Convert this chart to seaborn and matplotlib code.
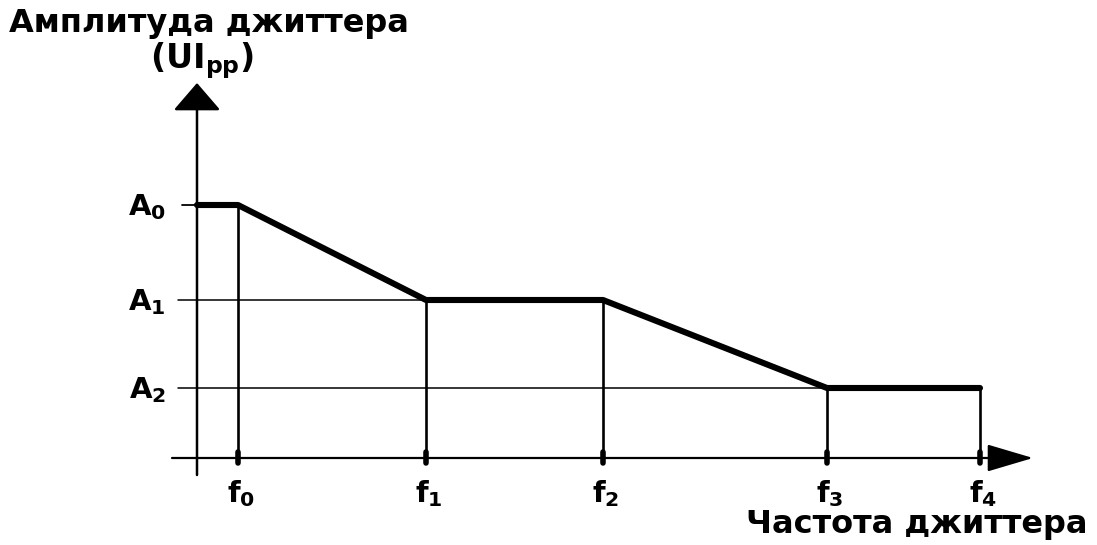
import matplotlib.pyplot as plt
import seaborn as sns
import pandas as pd

# частоты (по оси x) и амплитуды (по оси y), условные единицы
freq_labels = ["f$_0$", "f$_1$", "f$_2$", "f$_3$", "f$_4$"]
freq_pos = [0.41, 2.29, 4.06, 6.30, 7.83]
amp_labels = ["A$_0$", "A$_1$", "A$_2$"]
amp_pos = [2.53, 1.58, 0.70]

# маска джиттера: точки ломаной
mask_x = [0.0, 0.41, 2.29, 4.06, 6.30, 7.83]
mask_y = [2.53, 2.53, 1.58, 1.58, 0.70, 0.70]

sns.set_style("white")
plt.rcParams['font.family'] = ['DejaVu Sans']
plt.rcParams['mathtext.default'] = 'regular'
plt.rcParams['text.color'] = 'black'

fig = plt.figure(figsize=(10.97, 5.45), dpi=100)
ax = fig.add_axes([0, 0, 1, 1])

# оси со стрелками
ax.annotate("", xy=(8.36, 0), xytext=(-0.25, 0),
            arrowprops=dict(arrowstyle="-|>,head_length=1.45,head_width=0.43",
                            mutation_scale=20, shrinkA=0, shrinkB=0,
                            color="black", lw=1.6))
ax.annotate("", xy=(0, 3.75), xytext=(0, -0.17),
            arrowprops=dict(arrowstyle="-|>,head_length=0.87,head_width=0.75",
                            mutation_scale=20, shrinkA=0, shrinkB=0,
                            color="black", lw=1.8))

# вспомогательные горизонтальные линии уровней
ax.plot([-0.15, freq_pos[0]], [amp_pos[0]] * 2, color="black", lw=1.3)
ax.plot([-0.19, freq_pos[2]], [amp_pos[1]] * 2, color="black", lw=1.1)
ax.plot([-0.19, freq_pos[3]], [amp_pos[2]] * 2, color="black", lw=1.1)

# вертикальные линии от частот до маски
for x, y in zip(freq_pos, [2.53, 1.58, 1.58, 0.70, 0.70]):
    ax.plot([x, x], [0, y], color="black", lw=1.9)
    ax.plot([x, x], [-0.05, 0.06], color="black", lw=4)

df = pd.DataFrame({"f": mask_x, "A": mask_y})
sns.lineplot(data=df, x="f", y="A", ax=ax, color="black", lw=4.4,
             sort=False, estimator=None)
ax.set_xlim(-1.97, 9.00)
ax.set_ylim(-0.87, 4.58)
ax.axis("off")

for lab, y in zip(amp_labels, amp_pos):
    ax.text(-0.31, y - 0.02, lab, ha="right", va="center", fontsize=21, fontweight="bold")
for lab, x in zip(freq_labels, freq_pos):
    ax.text(x + 0.03, -0.36, lab, ha="center", va="center", fontsize=21, fontweight="bold")

ax.text(-1.88, 4.35, "Амплитуда джиттера", ha="left", va="center",
        fontsize=23, fontweight="bold")
ax.text(0.05, 3.97, "(UI$_{pp}$)", ha="center", va="center",
        fontsize=24, fontweight="bold")
ax.text(8.91, -0.66, "Частота джиттера", ha="right", va="center",
        fontsize=23, fontweight="bold")

fig.savefig("out.png", dpi=100)
